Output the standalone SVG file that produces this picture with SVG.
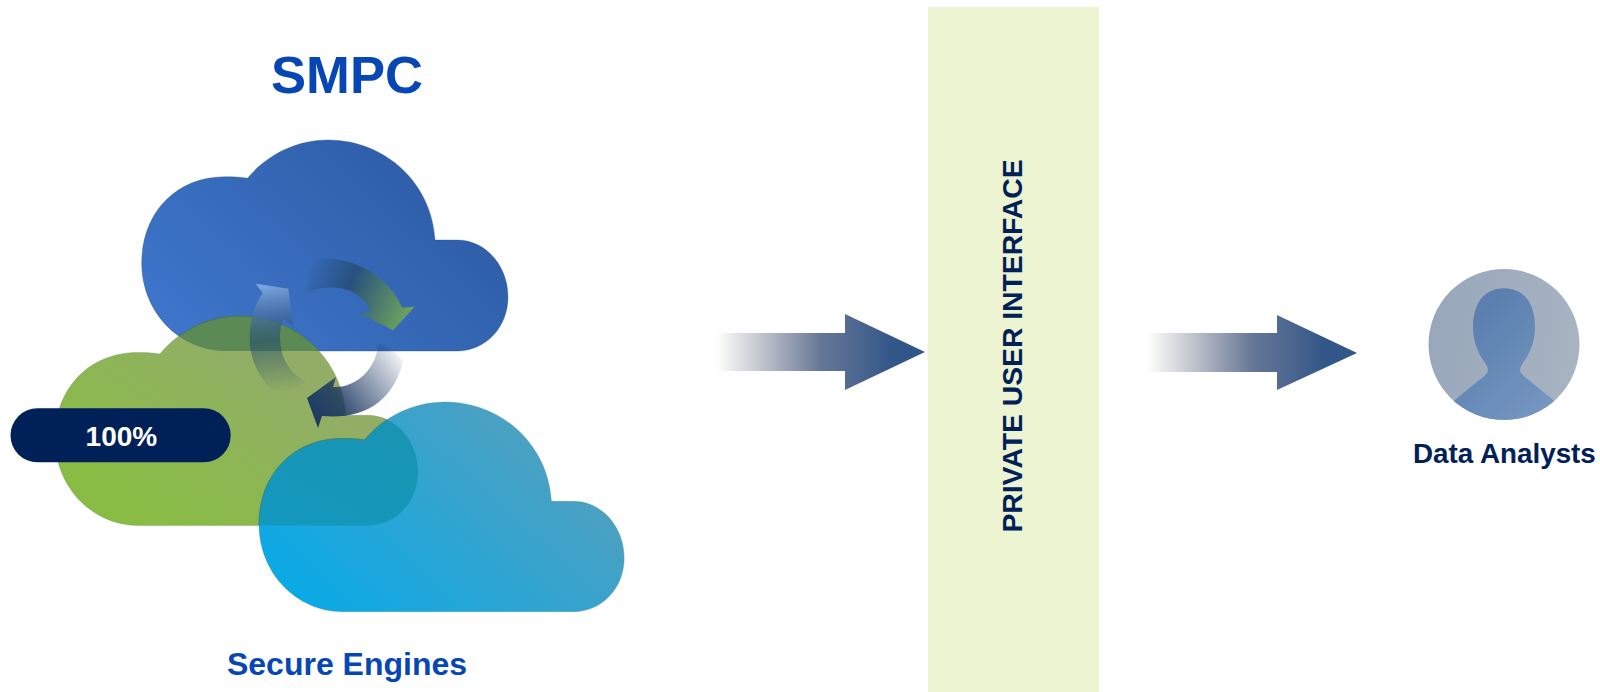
<svg xmlns="http://www.w3.org/2000/svg" width="1600" height="692" viewBox="0 0 1600 692">
<style>
text{font-family:"Liberation Sans",Arial,sans-serif;font-weight:700}
.navy{fill:#002157}
.blue{fill:#0747b5}
</style>
<defs>
<path id="cloud" d="M226 351C179 351 141.700 311.600 141.700 263C141.700 213 176 176.700 225 176.700C233 176.700 240 177 247.500 178.200C267 155 296 140 328 140C386 140 432 184 435 240L457 240C486 240 508 266 508 297C508 327 486 351 457 351Z"/>
<clipPath id="clipBlue"><use href="#cloud"/></clipPath>
<clipPath id="clipGreen"><use href="#cloud" transform="translate(-85.400 177) scale(0.991 0.993)"/></clipPath>
<clipPath id="clipCircle"><circle cx="1504" cy="344.500" r="75.500"/></clipPath>
<linearGradient id="gBlue" x1="0" y1="0.8" x2="1" y2="0.2"><stop offset="0" stop-color="#3e76cc"/><stop offset="1" stop-color="#2c5aa2"/></linearGradient>
<linearGradient id="gGreen" x1="0.05" y1="0.85" x2="0.85" y2="0.15"><stop offset="0.1" stop-color="#88bc45"/><stop offset="0.75" stop-color="#92ae66"/></linearGradient>
<linearGradient id="gTeal" x1="0.05" y1="0.9" x2="1" y2="0.3"><stop offset="0" stop-color="#08aae8"/><stop offset="1" stop-color="#569fbb"/></linearGradient>
<linearGradient id="gOver" x1="0" y1="1" x2="1" y2="0"><stop offset="0" stop-color="#0f9cc4"/><stop offset="1" stop-color="#1f8fa8"/></linearGradient>
<linearGradient id="gFlow" x1="0" y1="0" x2="1" y2="0"><stop offset="0" stop-color="#5a6070" stop-opacity="0"/><stop offset="0.5" stop-color="#4a5f85" stop-opacity="0.85"/><stop offset="0.85" stop-color="#325688"/><stop offset="1" stop-color="#325688"/></linearGradient>
<linearGradient id="gA1" gradientUnits="userSpaceOnUse" x1="303" y1="280" x2="405" y2="325"><stop offset="0" stop-color="#28507f" stop-opacity="0"/><stop offset="0.4" stop-color="#28507f"/><stop offset="1" stop-color="#6fa55a"/></linearGradient>
<linearGradient id="gA2" gradientUnits="userSpaceOnUse" x1="402" y1="350" x2="315" y2="415"><stop offset="0" stop-color="#0e2a58" stop-opacity="0"/><stop offset="0.75" stop-color="#1a3660" stop-opacity="0.85"/><stop offset="1" stop-color="#1d3d63"/></linearGradient>
<linearGradient id="gA3" gradientUnits="userSpaceOnUse" x1="285" y1="392" x2="272" y2="285"><stop offset="0" stop-color="#1f3f66" stop-opacity="0"/><stop offset="0.5" stop-color="#1f4570" stop-opacity="0.55"/><stop offset="1" stop-color="#7aa5de"/></linearGradient>
<linearGradient id="gCircle" x1="0" y1="0.5" x2="1" y2="0.7"><stop offset="0" stop-color="#98a7bb"/><stop offset="1" stop-color="#a9b4c1"/></linearGradient>
<linearGradient id="gPerson" x1="0.2" y1="0.3" x2="0.9" y2="1"><stop offset="0" stop-color="#5b80b0"/><stop offset="1" stop-color="#7a9bc3"/></linearGradient>
</defs>

<g id="title"><text class="blue" x="347" y="92.500" font-size="52.600" text-anchor="middle">SMPC</text></g>

<g id="cloud-blue"><use href="#cloud" fill="url(#gBlue)" stroke="#24487f" stroke-opacity="0.4" stroke-width="0.800"/></g>
<g id="cloud-green">
<use href="#cloud" transform="translate(-85.400 177) scale(0.991 0.993)" fill="url(#gGreen)" stroke="#6d8d52" stroke-opacity="0.4" stroke-width="0.800"/>
<g clip-path="url(#clipBlue)"><use href="#cloud" transform="translate(-85.400 177) scale(0.991 0.993)" fill="#5c8a55" stroke="#3f6b5c" stroke-width="0.800"/></g>
</g>

<g id="connectors">
<path fill="url(#gA3)" stroke="url(#gA3)" stroke-width="0.600" d="M273 390C254 372 250 352 250 337C250 320 255 305 263 293L256 284L288 289L293 326L283 318C280 327 279 335 280 343C281 358 289 373 305 382C296 388 284 391 273 390Z"/>
<path fill="url(#gA1)" stroke="url(#gA1)" stroke-width="0.600" d="M313 259C334 257 355 262 371 272C387 283 397 296 402 308L414 307L393 330L360 313L372 312C366 300 357 292 345 289C332 285 318 287 305 293Z"/>
<path fill="url(#gA2)" d="M403 362C399 378 391 392 379 402C364 414 344 418 322 416L318 428L307 398L336 377L333 387C345 388 356 382 364 375C373 366 378 354 378 343C388 346 397 352 403 362Z"/>
<path fill="url(#gFlow)" d="M716 333L845 333L845 314L925 352L845 390L845 371L716 371Z"/>
<path fill="url(#gFlow)" d="M1147 333L1277 333L1277 315L1357 353L1277 390L1277 372L1147 372Z"/>
</g>

<g id="cloud-teal">
<use href="#cloud" transform="translate(117.700 262.800) scale(0.997 0.994)" fill="url(#gTeal)" stroke="#4d8f88" stroke-opacity="0.4" stroke-width="0.800"/>
<g clip-path="url(#clipGreen)"><use href="#cloud" transform="translate(117.700 262.800) scale(0.997 0.994)" fill="url(#gOver)" stroke="#4d8060" stroke-width="0.800"/></g>
</g>

<g id="badge-100">
<rect class="navy" x="10.500" y="408.300" width="220.200" height="54" rx="27"/>
<text x="121.400" y="446" font-size="28" text-anchor="middle" fill="#ffffff">100%</text>
</g>
<g id="label-secure-engines"><text class="blue" x="347" y="675" font-size="32" text-anchor="middle">Secure Engines</text></g>

<g id="private-user-interface">
<rect x="928" y="7" width="171" height="685" fill="#edf4d2"/>
<text class="navy" transform="translate(1022 346) rotate(-90)" font-size="28.300" text-anchor="middle">PRIVATE USER INTERFACE</text>
</g>

<g id="data-analysts">
<circle cx="1504" cy="344.500" r="75.500" fill="url(#gCircle)"/>
<path clip-path="url(#clipCircle)" fill="url(#gPerson)" d="M1504 288.300C1525 288.300 1535 305 1535 327C1535 340 1531 349 1527 357C1523 363 1518 368 1521 373C1523 376 1526 378 1530 381L1575 418L1575 430L1433 430L1433 418L1478 381C1482 378 1485 376 1487 373C1490 368 1485 363 1481 357C1477 349 1473 340 1473 327C1473 305 1483 288.300 1504 288.300Z"/>
<text class="navy" x="1413" y="463" font-size="27.800">Data Analysts</text>
</g>
</svg>
